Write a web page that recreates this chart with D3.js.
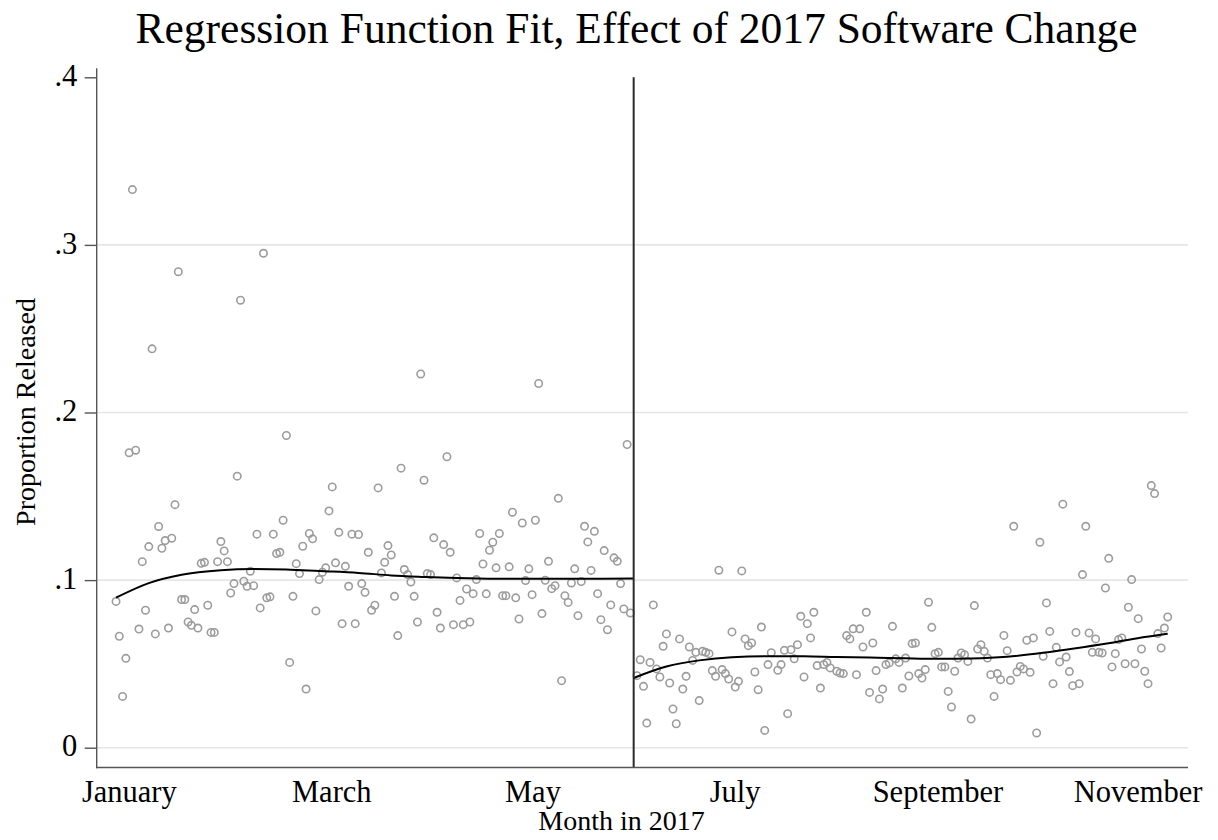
<!DOCTYPE html>
<html><head><meta charset="utf-8">
<script src="https://cdn.jsdelivr.net/npm/d3@7"></script>
<style>html,body{margin:0;padding:0;background:#fff}</style>
</head><body>
<svg id="chart" width="1218" height="840"></svg>
<script>
// ---- data (day index since first observation, proportion released) ----
const leftDays = [0,1,2,3,4,5,6,7,8,9,10,11,12,13,14,15,16,17,18,19,20,21,22,23,24,25,26,27,28,29,30,31,32,33,34,35,36,37,38,39,40,41,42,43,44,45,46,47,48,49,50,51,52,53,54,55,56,57,58,59,60,61,62,63,64,65,66,67,68,69,70,71,72,73,74,75,76,77,78,79,80,81,82,83,84,85,86,87,88,89,90,91,92,93,94,95,96,97,98,99,100,101,102,103,104,105,106,107,108,109,110,111,112,113,114,115,116,117,118,119,120,121,122,123,124,125,126,127,128,129,130,131,132,133,134,135,136,137,138,139,140,141,142,143,144,145,146,147,148,149,150,151,152,153,154,155,156,157];
const leftValues = [
.0873,.0665,.0306,.0533,.176,.333,.1775,.0708,.111,.082,
.120,.238,.0679,.132,.119,.1236,.0714,.125,.145,.284,
.0884,.0884,.075,.073,.0824,.0714,.110,.1106,.085,.0688,
.0688,.111,.123,.1174,.111,.0923,.0979,.162,.267,.0993,
.0963,.1053,.0967,.1274,.0834,.295,.0894,.09,.1274,.1158,
.1166,.1357,.1863,.0509,.0903,.1098,.1039,.1202,.035,.1278,
.1246,.0816,.1003,.1047,.1073,.1413,.1556,.1103,.1285,.074,
.1082,.0963,.1274,.074,.1272,.0979,.0927,.1166,.082,.085,
.155,.1043,.1106,.1206,.115,.0903,.0669,.1668,.1063,.1033,
.0989,.0903,.075,.223,.1596,.1039,.1033,.1252,.0808,.0714,
.1212,.1736,.1166,.0734,.1013,.0879,.0734,.0947,.075,.0919,
.1003,.1278,.1096,.0918,.1178,.1226,.1073,.1278,.0907,.0907,
.1079,.1405,.0894,.0768,.1341,.0997,.1067,.0913,.1357,.2173,
.08,.0999,.1112,.0949,.0967,.1488,.04,.0907,.0867,.0983,
.1067,.0788,.0991,.1321,.1228,.1058,.1291,.0919,.0764,.1176,
.0704,.0852,.1133,.1112,.0979,.0828,.1809,.0804];
const rightDays = [159,160,161,162,163,164,165,166,167,168,169,170,171,172,173,174,175,176,177,178,179,180,181,182,183,184,185,186,187,188,189,190,191,192,193,194,195,196,197,198,199,200,
202,203,204,205,206,207,208,209,210,211,212,213,214,215,216,217,218,
220,221,222,223,224,225,226,227,228,229,230,231,232,233,234,235,236,237,238,239,240,241,242,243,244,245,246,247,248,249,250,251,252,253,254,255,256,257,258,259,260,261,262,263,264,265,266,267,268,269,270,271,272,273,274,275,276,277,278,279,280,281,282,283,284,285,286,287,288,289,290,291,292,293,294,295,296,297,298,299,300,301,302,303,304,305,306,307,308,309,310,311,312,313,314,315,316,317,318,319,320,321];
const rightValues = [
.043,.0525,.0366,.0147,.0509,.0852,.047,.0422,.0605,.0679,
.0386,.0231,.0143,.0649,.035,.0426,.0601,.0521,.0569,.0281,
.0575,.0569,.0561,.046,.0426,.1059,.0466,.0442,.041,.0691,
.0362,.0396,.1055,.0649,.0609,.0625,.0452,.0346,.072,.0103,
.0496,.0567,
.0462,.0496,.0581,.0203,.0585,.053,.0615,.0784,.0422,.074,
.0655,.0808,.049,.0356,.0496,.0509,.0476,
.0456,.0446,.0442,.0669,.0649,.0709,.0436,.0709,.0601,.0808,
.033,.0625,.046,.0291,.035,.0496,.0506,.0724,.053,.0509,
.0356,.0535,.0428,.0621,.0625,.0442,.0416,.0466,.0868,.0718,
.0561,.0569,.0482,.0482,.0336,.0243,.0456,.0535,.0565,.0555,
.0515,.0171,.0848,.0589,.0615,.0575,.0535,.0436,.0306,.0442,
.0406,.067,.0579,.0402,.1321,.0452,.0485,.047,.0641,.045,
.0655,.0088,.1226,.0545,.0864,.0694,.0382,.0599,.0512,.1453,
.0541,.0454,.037,.0688,.0382,.1033,.1321,.0685,.0569,.0649,
.0569,.0565,.0953,.113,.0482,.0561,.0645,.0655,.0501,.0838,
.1003,.0501,.077,.0589,.0456,.0382,.1564,.1516,.0681,.0595,
.0714,.078];
const leftFitDays   = [0, 10, 20, 32, 42, 52, 62, 74, 84, 94, 104, 116, 136, 158];
const leftFitValues = [0.0895, 0.0982, 0.1032, 0.1059, 0.1066, 0.1063, 0.1054, 0.1043, 0.1028, 0.1019, 0.1012, 0.1008, 0.1008, 0.1009];
const rightFitDays   = [158, 168, 178, 188, 200, 210, 220, 230, 241, 251, 261, 272, 283, 293, 304, 314, 321];
const rightFitValues = [0.0416, 0.0484, 0.0521, 0.0540, 0.0546, 0.0545, 0.0541, 0.0538, 0.0533, 0.0530, 0.0532, 0.0542, 0.0566, 0.0594, 0.0626, 0.0660, 0.0680];
const cutoffDay = 158;
const xTickDays = [3.9, 65.7, 127.1, 188.8, 250.7, 311.8];
const xTickLabels = ["January", "March", "May", "July", "September", "November"];
const yTickValues = [0, 0.1, 0.2, 0.3, 0.4];
const yTickLabels = ["0", ".1", ".2", ".3", ".4"];
const gridValues = [0, 0.1, 0.2, 0.3];
const titleText = "Regression Function Fit, Effect of 2017 Software Change";
const xTitleText = "Month in 2017";
const yTitleText = "Proportion Released";

// ---- layout ----
const FONT = "'Liberation Serif','Times New Roman',Times,serif";
const plotLeft = 96.7, plotRight = 1188, plotTop = 68.3, plotBottom = 767.5;

const svg = d3.select("#chart");
svg.append("rect").attr("width", 1218).attr("height", 840).attr("fill", "#fff");

const x = d3.scaleLinear().domain([-5.9, 327.2]).range([plotLeft, plotRight]);
const y = d3.scaleLinear().domain([0, 0.4]).range([747.7, 77.3]);

// grid
svg.append("g").selectAll("line").data(gridValues).join("line")
  .attr("x1", plotLeft).attr("x2", plotRight)
  .attr("y1", d => y(d)).attr("y2", d => y(d))
  .attr("stroke", "#e6e6e6").attr("stroke-width", 1.6);

// scatter
const pts = leftDays.map((d, i) => ({d, v: leftValues[i]}))
  .concat(rightDays.map((d, i) => ({d, v: rightValues[i]})));
svg.append("g").selectAll("circle").data(pts).join("circle")
  .attr("cx", p => x(p.d)).attr("cy", p => y(p.v)).attr("r", 3.7)
  .attr("fill", "none").attr("stroke", "#9c9c9c").attr("stroke-width", 1.6);

// fits
const line = d3.line().x(p => x(p[0])).y(p => y(p[1])).curve(d3.curveMonotoneX);
svg.append("path").datum(leftFitDays.map((d, i) => [d, leftFitValues[i]]))
  .attr("d", line).attr("fill", "none").attr("stroke", "#000").attr("stroke-width", 2);
svg.append("path").datum(rightFitDays.map((d, i) => [d, rightFitValues[i]]))
  .attr("d", line).attr("fill", "none").attr("stroke", "#000").attr("stroke-width", 2);

// cutoff
svg.append("line")
  .attr("x1", x(cutoffDay)).attr("x2", x(cutoffDay))
  .attr("y1", y(0.4)).attr("y2", plotBottom)
  .attr("stroke", "#2a2a2a").attr("stroke-width", 2);

// y axis
const yAxis = d3.axisLeft(y).tickValues(yTickValues).tickFormat((d, i) => yTickLabels[i])
  .tickSize(12).tickPadding(7.4);
const gy = svg.append("g").attr("transform", `translate(${plotLeft},0)`).call(yAxis);
gy.select(".domain").remove();
gy.selectAll(".tick line").attr("stroke", "#555").attr("stroke-width", 1.4);
gy.selectAll(".tick text").attr("font-family", FONT).attr("font-size", 30.5)
  .attr("fill", "#000").attr("dy", "0.27em");

// x axis
const xAxis = d3.axisBottom(x).tickValues(xTickDays).tickFormat((d, i) => xTickLabels[i])
  .tickSize(0).tickPadding(12.8);
const gx = svg.append("g").attr("transform", `translate(0,${plotBottom})`).call(xAxis);
gx.select(".domain").remove();
gx.selectAll(".tick text").attr("font-family", FONT).attr("font-size", 30.5).attr("fill", "#000");

// axis lines
svg.append("line").attr("x1", plotLeft).attr("x2", plotLeft).attr("y1", plotTop).attr("y2", plotBottom + 0.7)
  .attr("stroke", "#555").attr("stroke-width", 1.4);
svg.append("line").attr("x1", plotLeft - 0.7).attr("x2", plotRight).attr("y1", plotBottom).attr("y2", plotBottom)
  .attr("stroke", "#555").attr("stroke-width", 1.4);

// titles
svg.append("text").attr("x", 636.5).attr("y", 43.3).attr("text-anchor", "middle")
  .attr("font-family", FONT).attr("font-size", 43.5).attr("fill", "#000").text(titleText);
svg.append("text").attr("x", 538.3).attr("y", 830).attr("text-anchor", "start")
  .attr("font-family", FONT).attr("font-size", 28).attr("fill", "#000").text(xTitleText);
svg.append("text").attr("transform", "translate(35,412) rotate(-90)").attr("text-anchor", "middle")
  .attr("font-family", FONT).attr("font-size", 28).attr("fill", "#000").text(yTitleText);
</script>
</body></html>
